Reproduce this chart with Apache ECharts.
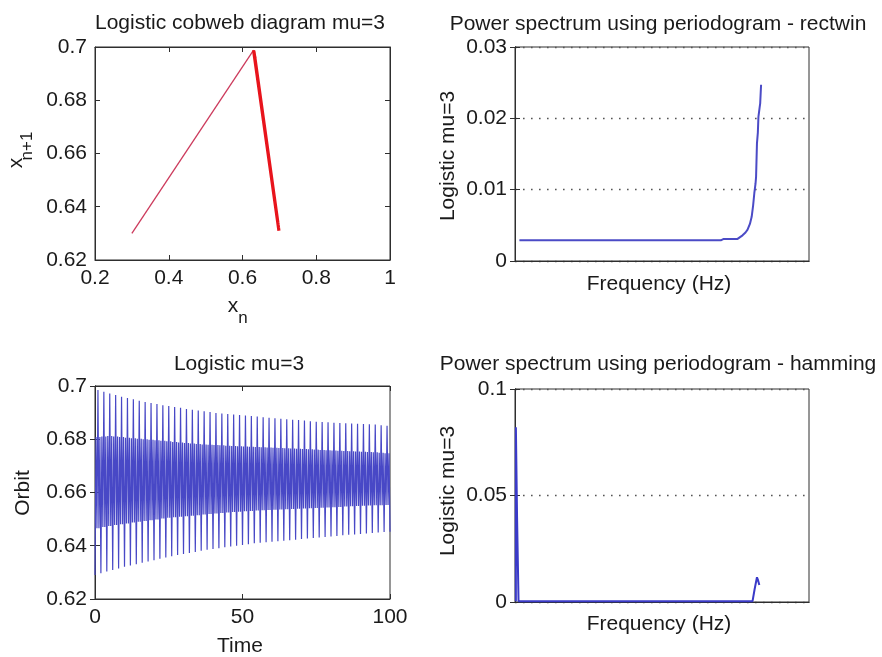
<!DOCTYPE html>
<html>
<head>
<meta charset="utf-8">
<script src="https://cdn.jsdelivr.net/npm/echarts@6/dist/echarts.min.js"></script>
<style>
html,body{margin:0;padding:0;background:#fff;}
#chart{width:882px;height:657px;}
</style>
</head>
<body>
<div id="chart"></div>
<script>
// ---------- DATA ----------
// Cobweb (x_n, x_{n+1}) pairs
var cobwebStartX = [0.30, 0.630];
var cobwebStartY = [0.630, 0.6988];
var cobwebX = [0.630, 0.6988, 0.6312, 0.6982, 0.6318, 0.6976, 0.6324, 0.6970, 0.6330, 0.6965, 0.6336, 0.6960];
var cobwebY = [0.6988, 0.6310, 0.6982, 0.6316, 0.6976, 0.6322, 0.6970, 0.6328, 0.6965, 0.6334, 0.6960, 0.6340];

// Orbit envelopes
var orbitLows = [0.6290,0.6297,0.6303,0.6309,0.6315,0.6321,0.6326,0.6331,0.6336,0.6341,
                 0.6346,0.6351,0.6356,0.6361,0.6365,0.6369,0.6373,0.6377,0.6381,0.6385,
                 0.6388,0.6391,0.6394,0.6397,0.6400,0.6403,0.6406,0.6409,0.6411,0.6413,
                 0.6415,0.6417,0.6419,0.6421,0.6423,0.6425,0.6427,0.6429,0.6431,0.6433,
                 0.6435,0.6437,0.6439,0.6441,0.6442,0.6444,0.6446,0.6448,0.6450,0.6452,0.6453];
var orbitBandTop = [0.6808,0.6810,0.6812,0.6810,0.6808,0.6806,0.6804,0.6802,0.6800,0.6798,
                    0.6796,0.6794,0.6792,0.6790,0.6788,0.6786,0.6784,0.6782,0.6780,0.6779,
                    0.6778,0.6777,0.6776,0.6775,0.6774,0.6773,0.6772,0.6771,0.6770,0.6769,
                    0.6768,0.6767,0.6766,0.6765,0.6764,0.6763,0.6762,0.6761,0.6760,0.6759,
                    0.6758,0.6757,0.6756,0.6755,0.6754,0.6753,0.6752,0.6751,0.6749,0.6747];
var orbitHighs = [0.6985,0.6978,0.6972,0.6966,0.6960,0.6955,0.6950,0.6945,0.6940,0.6936,
                  0.6932,0.6928,0.6925,0.6921,0.6918,0.6914,0.6911,0.6908,0.6905,0.6902,
                  0.6899,0.6897,0.6895,0.6893,0.6891,0.6889,0.6887,0.6885,0.6883,0.6881,
                  0.6879,0.6877,0.6875,0.6873,0.6872,0.6870,0.6868,0.6866,0.6865,0.6864,
                  0.6862,0.6861,0.6860,0.6859,0.6858,0.6857,0.6856,0.6855,0.6853,0.6851];
var orbitBandBottom = [0.6466,0.6470,0.6474,0.6478,0.6481,0.6484,0.6487,0.6490,0.6493,0.6496,
                       0.6499,0.6502,0.6505,0.6507,0.6509,0.6511,0.6513,0.6515,0.6517,0.6519,
                       0.6521,0.6523,0.6525,0.6527,0.6528,0.6530,0.6531,0.6532,0.6533,0.6534,
                       0.6535,0.6536,0.6537,0.6538,0.6539,0.6540,0.6541,0.6542,0.6543,0.6544,
                       0.6545,0.6546,0.6547,0.6548,0.6549,0.6550,0.6551,0.6552,0.6552,0.6553];
var orbitPeriod = 2;   // time between successive high spikes

// Periodogram - rectwin (normalised frequency 0..1 of the axis)
var rectFreq  = [0.015,0.10,0.20,0.30,0.40,0.50,0.60,0.70,0.710,0.720,0.757,0.774,0.784,0.791,0.799,0.805,0.810,0.814,0.818,0.820,0.823,0.826,0.828,0.832,0.834,0.837];
var rectPower = [0.0029,0.0029,0.0029,0.0029,0.0029,0.0029,0.0029,0.0029,0.0031,0.0031,0.0031,0.0036,0.0040,0.0044,0.0052,0.0062,0.0078,0.0095,0.0108,0.0118,0.0165,0.0180,0.0202,0.0215,0.0221,0.0247];

// Periodogram - hamming
var hammFreq  = [0.003,0.003,0.007,0.007,0.012,0.10,0.20,0.30,0.40,0.50,0.60,0.70,0.808,0.815,0.823,0.826,0.831];
var hammPower = [0.0003,0.082,0.082,0.040,0.0004,0.0003,0.0003,0.0003,0.0003,0.0003,0.0003,0.0003,0.0004,0.0060,0.0116,0.0105,0.0080];

// Tick settings
var cobX = {min:0.2, max:1, interval:0.2};
var cobY = {min:0.62, max:0.7, interval:0.02};
var timeX = {min:0, max:100, interval:50};
var orbY = {min:0.62, max:0.7, interval:0.02};
var rectY = {min:0, max:0.03, interval:0.01};
var hammY = {min:0, max:0.1, interval:0.05};

// ---------- BUILD ----------
function zip(a,b){var r=[];for(var i=0;i<a.length;i++)r.push([a[i],b[i]]);return r;}
// each period: low spike, several crossings of the dense band, high spike
var orbitData=[];
var P=orbitPeriod;
for(var k=0;k<orbitHighs.length;k++){
  var t0=k*P;
  orbitData.push([t0,orbitLows[k]]);
  orbitData.push([t0+P/6,orbitBandTop[k]]);
  orbitData.push([t0+2*P/6,orbitBandBottom[k]]);
  orbitData.push([t0+3*P/6,orbitHighs[k]]);
  orbitData.push([t0+4*P/6,orbitBandBottom[k]]);
  orbitData.push([t0+5*P/6,orbitBandTop[k]]);
}
orbitData.push([orbitHighs.length*P,orbitLows[orbitLows.length-1]]);

var FONT='"Liberation Sans", Arial, sans-serif';
var TXT='#1a1a1a';
var AX='#2e2e2e';
function fmt(v){return String(parseFloat(v.toFixed(4)));}

var grids=[
  {left:95,top:47,width:295,height:213},
  {left:515,top:47,width:294,height:214},
  {left:95,top:386,width:295,height:213},
  {left:515,top:389,width:294,height:213}
];
grids.forEach(function(g){g.show=true;g.borderColor=AX;g.borderWidth=1;g.backgroundColor='#fff';g.containLabel=false;});

function mkX(gi,s,pos,labels,ticks){
  return {type:'value',gridIndex:gi,position:pos,min:s.min,max:s.max,interval:s.interval,
    axisLine:{show:true,lineStyle:{color:AX,width:1}},
    axisTick:{show:ticks,inside:true,length:5,lineStyle:{color:AX}},
    axisLabel:{show:labels,color:TXT,fontFamily:FONT,fontSize:21,margin:8,formatter:fmt},
    splitLine:{show:false}};
}
function mkY(gi,s,pos,labels,grid){
  return {type:'value',gridIndex:gi,position:pos,min:s.min,max:s.max,interval:s.interval,
    axisLine:{show:true,lineStyle:{color:AX,width:1}},
    axisTick:{show:true,inside:true,length:5,lineStyle:{color:AX}},
    axisLabel:{show:labels,color:TXT,fontFamily:FONT,fontSize:21,margin:8,formatter:fmt},
    splitLine:{show:grid,lineStyle:{color:'#555',type:[1.6,6.4],width:1.3}}};
}
var freqS={min:0,max:1,interval:0.25};

var xAxes=[
  mkX(0,cobX,'bottom',true,true), mkX(0,cobX,'top',false,true),
  mkX(1,freqS,'bottom',false,false), mkX(1,freqS,'top',false,false),
  mkX(2,timeX,'bottom',true,true), mkX(2,timeX,'top',false,true),
  mkX(3,freqS,'bottom',false,false), mkX(3,freqS,'top',false,false)
];
var yAxes=[
  mkY(0,cobY,'left',true,false), mkY(0,cobY,'right',false,false),
  mkY(1,rectY,'left',true,true), mkY(1,rectY,'right',false,false),
  mkY(2,orbY,'left',true,false), mkY(2,orbY,'right',false,false),
  mkY(3,hammY,'left',true,true), mkY(3,hammY,'right',false,false)
];

function line(xi,yi,data,color,w,z){
  return {type:'line',xAxisIndex:xi,yAxisIndex:yi,data:data,showSymbol:false,symbol:'none',
    lineStyle:{color:color,width:w},z:z||2,animation:false,silent:true};
}

var series=[
  line(0,0,zip(cobwebStartX,cobwebStartY),'#cc3a5c',1.3,3),
  line(0,0,zip(cobwebX,cobwebY),'#e8141c',3.2,4),
  line(2,2,zip(rectFreq,rectPower),'#4b4bc6',2,3),
  line(4,4,orbitData,'#4848c6',1.2,3),
  line(6,6,zip(hammFreq,hammPower),'#3a3ac8',2,3)
];

function txt(x,y,s,size,rot){
  return {type:'text',x:x,y:y,rotation:rot||0,silent:true,z:100,
    style:{text:s,fill:TXT,font:size+'px '+FONT,textAlign:'center',textVerticalAlign:'middle'}};
}
var R=Math.PI/2;
var graphics=[
  txt(240,23,'Logistic cobweb diagram mu=3',21),
  txt(658,24,'Power spectrum using periodogram - rectwin',21),
  txt(239,364,'Logistic mu=3',21),
  txt(658,364,'Power spectrum using periodogram - hamming',21),
  txt(233,306,'x',21), txt(243,318,'n',17),
  txt(16,163,'x',21,R), txt(27,146,'n+1',17,R),
  txt(23,493,'Orbit',21,R),
  txt(240,646,'Time',21),
  txt(659,284,'Frequency (Hz)',21),
  txt(659,624,'Frequency (Hz)',21),
  txt(448,156,'Logistic mu=3',21,R),
  txt(448,491,'Logistic mu=3',21,R)
];

var chart=echarts.init(document.getElementById('chart'),null,{renderer:'canvas'});
chart.setOption({
  animation:false,
  backgroundColor:'#fff',
  grid:grids,
  xAxis:xAxes,
  yAxis:yAxes,
  series:series,
  graphic:graphics
});
</script>
</body>
</html>
